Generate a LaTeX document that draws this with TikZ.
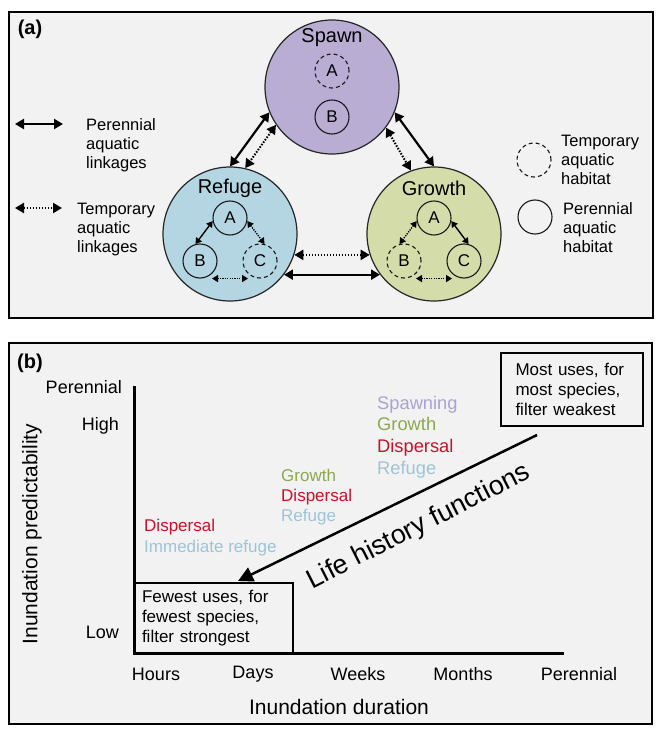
\documentclass[tikz,border=0pt]{standalone}
\usepackage{fontspec}
\setmainfont{Liberation Sans}
\usetikzlibrary{arrows.meta,positioning}

\definecolor{panelbg}{RGB}{242,242,242}
\definecolor{spawnfill}{RGB}{185,173,212}
\definecolor{refugefill}{RGB}{180,214,227}
\definecolor{growthfill}{RGB}{212,221,170}
\definecolor{spawntxt}{RGB}{170,162,208}
\definecolor{growthtxt}{RGB}{140,167,78}
\definecolor{dispersaltxt}{RGB}{200,18,40}
\definecolor{refugetxt}{RGB}{157,196,215}

\tikzset{
	patch/.style={circle, draw=black!85, line width=1.2pt, minimum size=134pt, inner sep=0pt},
	perm/.style={circle, draw=black!90, line width=1.1pt, minimum size=34pt, inner sep=0pt, font=\fontsize{17}{20}\selectfont},
	tempo/.style={perm, dash pattern=on 4pt off 3pt},
	patchname/.style={inner sep=0pt, font=\fontsize{20}{24}\selectfont},
	perlink/.style={{Triangle[length=9pt,width=10pt]}-{Triangle[length=9pt,width=10pt]}, line width=2.2pt},
	templink/.style={perlink, line width=2pt, dash pattern=on 1.5pt off 1.5pt},
	smallper/.style={{Triangle[length=6pt,width=7pt]}-{Triangle[length=6pt,width=7pt]}, line width=1.4pt},
	smalltemp/.style={smallper, dash pattern=on 1.2pt off 1.2pt},
	legtext/.style={inner sep=0pt, anchor=west, align=left, font=\fontsize{16.5}{19}\selectfont},
	ticklab/.style={inner sep=0pt, font=\fontsize{18}{22}\selectfont},
	axislab/.style={inner sep=0pt, font=\fontsize{21}{25}\selectfont},
	uses/.style={inner sep=0pt, anchor=west, align=left, font=\fontsize{17}{21}\selectfont},
	usebox/.style={draw, line width=1.5pt, align=left, inner ysep=0pt, font=\fontsize{17}{20}\selectfont},
	bigarrow/.style={-{Triangle[length=15pt,width=15pt]}, line width=2.5pt},
	panellab/.style={inner sep=0pt, font=\bfseries\fontsize{20}{24}\selectfont}
}

\begin{document}
\begin{tikzpicture}[x=1pt, y=-1pt]
	\fill[white] (0,0) rectangle (671,741);
	\useasboundingbox (0,0) rectangle (671,741);

	% panel (a)
	\draw[line width=2pt, fill=panelbg] (9,12) rectangle (653,318);
	\node[panellab] (pa) at (30,29) {(a)};

	\node[patch, fill=spawnfill] (spawn) at (332,87) {};
	\node[patch, fill=refugefill] (refuge) at (230,234) {};
	\node[patch, fill=growthfill] (growth) at (434,234) {};

	\node[tempo] (sA) at (332,71) {A};
	\node[perm] (sB) [on grid, below=46pt of sA] {B};
	\node[patchname] (sname) [on grid, above=33pt of sA] {Spawn};

	\node[perm] (rA) at (230,218) {A};
	\node[perm] (rB) [on grid, below left=43pt and 30pt of rA] {B};
	\node[tempo] (rC) [on grid, below right=43pt and 30pt of rA] {C};
	\node[patchname] (rname) [on grid, above=30pt of rA] {Refuge};

	\node[perm] (gA) at (434,218) {A};
	\node[tempo] (gB) [on grid, below left=43pt and 30pt of gA] {B};
	\node[perm] (gC) [on grid, below right=43pt and 30pt of gA] {C};
	\node[patchname] (gname) [on grid, above=30pt of gA] {Growth};

	\draw[perlink] (spawn.202) -- (refuge.90);
	\draw[templink] (spawn.214) -- (refuge.77);
	\draw[perlink] (spawn.-22) -- (growth.90);
	\draw[templink] (spawn.-37) -- (growth.110);
	\draw[templink] (refuge.-18) -- (growth.198);
	\draw[perlink] (refuge.-37) -- (growth.217);

	\draw[smallper] (rA.190) -- (rB.105);
	\draw[smalltemp] (rA.-10) -- (rC.75);
	\draw[smalltemp] ([xshift=12pt]rB.south) -- ([xshift=-12pt]rC.south);
	\draw[smalltemp] (gA.190) -- (gB.105);
	\draw[smallper] (gA.-10) -- (gC.75);
	\draw[smalltemp] ([xshift=12pt]gB.south) -- ([xshift=-12pt]gC.south);

	% legend
	\coordinate (pl1) at (15,124);
	\coordinate (pl2) at (63,124);
	\coordinate (tl1) at (15,208);
	\coordinate (tl2) at (62,208);
	\draw[perlink] (pl1) -- (pl2);
	\draw[templink] (tl1) -- (tl2);
	\node[legtext] (plab) at (86,145) {Perennial\\aquatic\\linkages};
	\node[legtext] (tlab) at (77,230) {Temporary\\aquatic\\linkages};

	\node[tempo] (ltemp) at (534,160) {};
	\node[perm] (lperm) at (535,217) {};
	\node[legtext] (ltlab) at (561,160) {Temporary\\aquatic\\habitat};
	\node[legtext] (lplab) at (563,228) {Perennial\\aquatic\\habitat};

	% panel (b)
	\draw[line width=2pt, fill=panelbg] (9,343) rectangle (652,724);
	\node[panellab] (pb) at (30,363) {(b)};

	\coordinate (ytop) at (134,386);
	\coordinate (orig) at (134,653);
	\coordinate (xend) at (564,653);
	\node[usebox, minimum width=159pt, minimum height=70pt, text width=143pt, inner xsep=8pt] (fewbox) at (213.5,618) {Fewest uses, for\\fewest species,\\filter strongest};
	\node[usebox, minimum width=142pt, minimum height=73pt, text width=113pt, inner xsep=14.5pt] (mostbox) at (572,389.5) {Most uses, for\\most species,\\filter weakest};
	\draw[line width=3pt] (ytop) -- (orig) -- (xend);

	\node[ticklab, anchor=east] (yper) at (122,387) {Perennial};
	\node[ticklab, anchor=east] (yhigh) at (119,426) {High};
	\node[ticklab, anchor=east] (ylow) at (119,632) {Low};
	\node[axislab, rotate=90] (ylab) at (32,534) {Inundation predictability};

	\node[ticklab] (xhours) at (156,674) {Hours};
	\node[ticklab] (xdays) at (253,674) {Days};
	\node[ticklab] (xweeks) at (358,674) {Weeks};
	\node[ticklab] (xmonths) at (463,674) {Months};
	\node[ticklab] (xper) at (579,674) {Perennial};
	\node[axislab] (xlab) at (339,707) {Inundation duration};

	\node[uses] (hoursuses) at (144,538) {\color{dispersaltxt}Dispersal\\\color{refugetxt}Immediate refuge};
	\node[uses, font=\fontsize{17}{20}\selectfont] (daysuses) at (281,497) {\color{growthtxt}Growth\\\color{dispersaltxt}Dispersal\\\color{refugetxt}Refuge};
	\node[uses, font=\fontsize{18.3}{21.8}\selectfont] (permuses) at (377,437) {\color{spawntxt}Spawning\\\color{growthtxt}Growth\\\color{dispersaltxt}Dispersal\\\color{refugetxt}Refuge};

	\coordinate (lhs) at (537,435);
	\coordinate (lhe) at (238,581);
	\draw[bigarrow] (lhs) -- (lhe);
	\node[inner sep=0pt, rotate=27, font=\fontsize{27}{32}\selectfont] (lhf) at (419,527) {Life history functions};
\end{tikzpicture}
\end{document}
